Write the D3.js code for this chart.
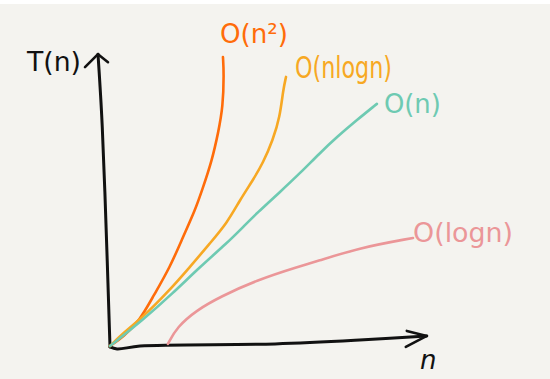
<!DOCTYPE html>
<html>
<head>
<meta charset="utf-8">
<script src="https://cdn.jsdelivr.net/npm/d3@7"></script>
<style>
  html, body { margin: 0; padding: 0; background: #ffffff; }
  svg { display: block; }
</style>
</head>
<body>
<div id="chart"></div>
<script>
// series, in (n, T(n)) units on a 0-100 scale
const seriesNames = ['O(n²)', 'O(nlogn)', 'O(n)', 'O(logn)'];
const seriesColors = ['#ff6c0a', '#f7a823', '#6ecab2', '#eb9698'];

const quadratic = [[0, 0], [4.1, 3.0], [9.4, 8.8], [13.4, 16.6], [18.8, 26.7], [22.8, 36.8],
  [26.6, 45.9], [28.8, 52.7], [31.9, 62.8], [33.8, 72.0], [35.3, 80.7], [35.6, 92.2], [35.3, 97.6]];
const nlogn = [[0, 0], [4.1, 4.4], [10.3, 9.8], [17.8, 17.9], [25, 26.7], [31.3, 34.8],
  [36.6, 41.6], [40.6, 49.3], [44.7, 56.1], [47.8, 61.8], [50.9, 69.6], [53.1, 77.4], [54.1, 86.5], [55.0, 90.9]];
const linear = [[0, 0], [10.3, 8.8], [19.7, 17.9], [28.1, 26.7], [36.6, 34.8], [41.6, 40.2], [45.9, 44.9],
  [53.1, 52.0], [59.4, 58.4], [65.6, 65.2], [70.9, 70.6], [77.2, 76.4], [83.4, 81.8]];
const logn = [[18.1, 0.7], [20.9, 6.4], [27.2, 12.2], [34.4, 16.6], [45.9, 22.3], [59.4, 27.0],
  [64.1, 28.4], [77.5, 33.1], [94.7, 36.5]];

// hand-drawn axes, same units
const yAxisPts = [[0, -0.3], [-1.6, 52], [-2.6, 78], [-3.75, 98.6]];
const xAxisPts = [[0, -0.3], [2.2, -1], [9.4, 0], [51.6, 0.7], [78, 2], [99, 3.4]];
const axisLabels = ['T(n)', 'n'];

const width = 550, height = 379;
const margin = { top: 50, right: 120, bottom: 33, left: 110 };

// scales
const x = d3.scaleLinear().domain([0, 100]).range([margin.left, width - margin.right]);
const y = d3.scaleLinear().domain([0, 100]).range([height - margin.bottom, margin.top]);

const svg = d3.select('#chart').append('svg')
  .attr('width', width)
  .attr('height', height);

// paper background, white strip at the top
svg.append('rect').attr('width', width).attr('height', height).attr('fill', '#ffffff');
svg.append('rect').attr('y', 4).attr('width', width).attr('height', height - 4).attr('fill', '#f4f3ef');

const axisLine = d3.line()
  .x(d => x(d[0]))
  .y(d => y(d[1]))
  .curve(d3.curveCatmullRom.alpha(0.5));

// smoother line for the curves, evens out reading noise
const line = d3.line()
  .x(d => x(d[0]))
  .y(d => y(d[1]))
  .curve(d3.curveBasis);

// axes
svg.append('path').attr('d', axisLine(yAxisPts))
  .attr('fill', 'none').attr('stroke', '#111').attr('stroke-width', 3).attr('stroke-linecap', 'round');
svg.append('path').attr('d', axisLine(xAxisPts))
  .attr('fill', 'none').attr('stroke', '#111').attr('stroke-width', 3).attr('stroke-linecap', 'round');

// arrow heads
const yTip = yAxisPts[yAxisPts.length - 1];
const xTip = xAxisPts[xAxisPts.length - 1];
const arrow = d3.line();
svg.append('path')
  .attr('d', arrow([[x(yTip[0]) - 13, y(yTip[1]) + 13], [x(yTip[0]), y(yTip[1])], [x(yTip[0]) + 10, y(yTip[1]) + 8]]))
  .attr('fill', 'none').attr('stroke', '#111').attr('stroke-width', 2.6)
  .attr('stroke-linecap', 'round').attr('stroke-linejoin', 'round');
svg.append('path')
  .attr('d', arrow([[x(xTip[0]) - 20, y(xTip[1]) - 5], [x(xTip[0]), y(xTip[1])], [x(xTip[0]) - 21, y(xTip[1]) + 11]]))
  .attr('fill', 'none').attr('stroke', '#111').attr('stroke-width', 2.6)
  .attr('stroke-linecap', 'round').attr('stroke-linejoin', 'round');

// curves
const series = [quadratic, nlogn, linear, logn];
series.forEach((s, i) => {
  svg.append('path').attr('d', line(s))
    .attr('fill', 'none')
    .attr('stroke', seriesColors[i])
    .attr('stroke-width', 2.6)
    .attr('stroke-linecap', 'round');
});

// curve labels, placed next to the end of each curve
const labelOffsets = [[-3, -14, 68], [9, 1, 97], [7, 9, 57], [0, 4, 100]];
series.forEach((s, i) => {
  const end = s[s.length - 1];
  const [dx, dy, len] = labelOffsets[i];
  svg.append('text')
    .attr('x', x(end[0]) + dx)
    .attr('y', y(end[1]) + dy)
    .attr('fill', seriesColors[i])
    .attr('font-family', 'DejaVu Sans')
    .attr('font-size', i === 1 ? 30 : 26)
    .attr('textLength', len)
    .attr('lengthAdjust', 'spacingAndGlyphs')
    .text(seriesNames[i]);
});

// axis labels
svg.append('text')
  .attr('x', 27).attr('y', 71)
  .attr('fill', '#111')
  .attr('font-family', 'DejaVu Sans')
  .attr('font-size', 26)
  .attr('textLength', 54)
  .attr('lengthAdjust', 'spacingAndGlyphs')
  .text(axisLabels[0]);
svg.append('text')
  .attr('x', 420).attr('y', 369)
  .attr('fill', '#111')
  .attr('font-family', 'DejaVu Sans')
  .attr('font-style', 'italic')
  .attr('font-size', 26)
  .text(axisLabels[1]);
</script>
</body>
</html>
